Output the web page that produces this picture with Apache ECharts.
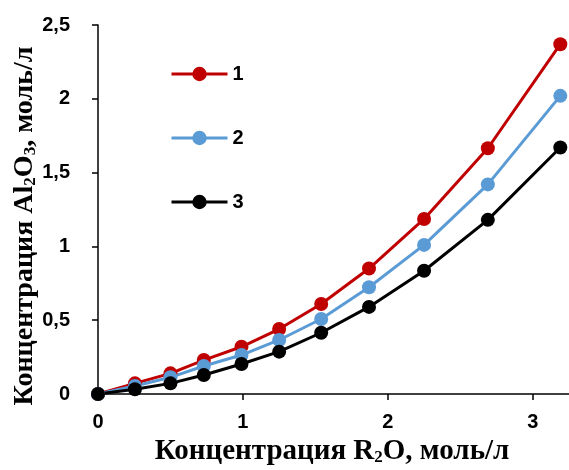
<!DOCTYPE html>
<html>
<head>
<meta charset="utf-8">
<script src="https://cdn.jsdelivr.net/npm/echarts@6/dist/echarts.min.js"></script>
<style>
  html, body { margin: 0; padding: 0; background: #fff; }
  #chart { width: 569px; height: 470px; }
</style>
</head>
<body>
<div id="chart"></div>
<script>
// R2O concentration, mol/l
const xValues = [0, 0.255, 0.50, 0.73, 0.99, 1.25, 1.54, 1.87, 2.25, 2.69, 3.19];
// Al2O3 concentration, mol/l, for curves 1, 2, 3
const series1 = [0, 0.072, 0.14, 0.23, 0.32, 0.44, 0.61, 0.85, 1.186, 1.665, 2.37];
const series2 = [0, 0.054, 0.113, 0.19, 0.264, 0.366, 0.508, 0.723, 1.01, 1.42, 2.02];
const series3 = [0, 0.032, 0.072, 0.129, 0.203, 0.287, 0.415, 0.59, 0.835, 1.18, 1.67];
const seriesNames = ['1', '2', '3'];
const seriesColors = ['#C00000', '#5B9BD5', '#000000'];
const xTitle = 'Концентрация R{sub|2}O, моль/л';
const yTitle = 'Концентрация Al{sub|2}O{sub|3}, моль/л';

const pairs = ys => xValues.map((x, i) => [x, ys[i]]);
const allSeries = [series1, series2, series3];

const chart = echarts.init(document.getElementById('chart'), null, { renderer: 'canvas' });

const sans = 'Liberation Sans, Arial, sans-serif';
const serif = 'Liberation Serif, Times New Roman, serif';
const tickFont = { fontFamily: sans, fontWeight: 'bold', fontSize: 20, color: '#000' };
const subStyle = { fontFamily: serif, fontWeight: 'bold', fontSize: 17, color: '#000', padding: [12, 0, 0, 0] };

const titleText = (text, x, y, rotation, size) => ({
  type: 'text',
  x: x,
  y: y,
  rotation: rotation,
  style: {
    text: text,
    fontFamily: serif,
    fontWeight: 'bold',
    fontSize: size,
    fill: '#000',
    align: 'center',
    verticalAlign: 'middle',
    rich: { sub: subStyle }
  }
});

chart.setOption({
  animation: false,
  backgroundColor: '#fff',
  grid: { left: 98, top: 25, bottom: 76, right: 0, containLabel: false },
  legend: {
    orient: 'vertical',
    left: 165,
    top: 59,
    itemGap: 44,
    itemWidth: 56,
    itemHeight: 18,
    data: seriesNames,
    lineStyle: { width: 3 },
    textStyle: { fontFamily: sans, fontWeight: 'bold', fontSize: 20, color: '#000' }
  },
  graphic: [
    titleText(xTitle, 332, 452, 0, 29),
    titleText(yTitle, 25, 226, Math.PI / 2, 28)
  ],
  xAxis: {
    type: 'value',
    min: 0,
    max: 3.25,
    interval: 1,
    splitLine: { show: false },
    axisLine: { onZero: false, lineStyle: { color: '#000', width: 1.5 } },
    axisTick: { show: true, length: 6, lineStyle: { color: '#000', width: 1.5 } },
    axisLabel: Object.assign({ margin: 18, showMaxLabel: false, formatter: v => (Number.isInteger(v) ? String(v) : '') }, tickFont)
  },
  yAxis: {
    type: 'value',
    min: 0,
    max: 2.5,
    interval: 0.5,
    splitLine: { show: false },
    axisLine: { show: true, lineStyle: { color: '#000', width: 1.5 } },
    axisTick: { show: true, length: 6, lineStyle: { color: '#000', width: 1.5 } },
    axisLabel: Object.assign({ margin: 28, formatter: v => String(v).replace('.', ',') }, tickFont)
  },
  series: allSeries.map((ys, i) => ({
    name: seriesNames[i],
    type: 'line',
    data: pairs(ys),
    symbol: 'circle',
    symbolSize: 14,
    color: seriesColors[i],
    lineStyle: { width: 3, color: seriesColors[i] },
    itemStyle: { color: seriesColors[i] },
    clip: false
  }))
});
</script>
</body>
</html>
